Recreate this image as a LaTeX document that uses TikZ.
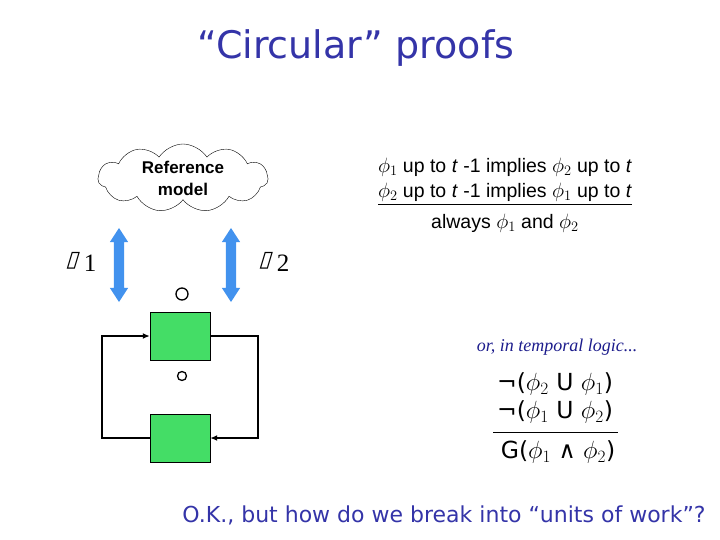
\documentclass[tikz,border=0pt]{standalone}
\usepackage{amsmath,amssymb}
\usepackage{xcolor}
\usepackage{fontspec}
\setmainfont{Liberation Sans}
\newfontfamily\comicfont{DejaVu Sans}
\newfontfamily\timesfont{Liberation Serif}
\newfontfamily\boxfont[FakeSlant=0.3]{DejaVu Sans}
\usepackage{tikz}
\usetikzlibrary{arrows.meta,positioning,shapes.symbols,shapes.arrows}
\definecolor{slideblue}{RGB}{52,52,168}
\definecolor{logicblue}{RGB}{28,28,140}
\definecolor{arrowblue}{RGB}{66,146,238}
\definecolor{unitgreen}{RGB}{68,221,102}
\newcommand{\glyphbox}[1]{{\boxfont\fontsize{22}{22}\selectfont ▯}\hspace{6pt}\raisebox{-5pt}{\timesfont\fontsize{25}{25}\selectfont #1}}

\begin{document}
\begin{tikzpicture}[x=1pt,y=-1pt,
  title/.style={font=\comicfont\fontsize{38}{42}\selectfont,text=slideblue},
  remark/.style={font=\comicfont\fontsize{22}{26}\selectfont,text=slideblue},
  body/.style={font=\fontsize{19.5}{22}\selectfont,inner sep=1pt},
  logic/.style={font=\comicfont\fontsize{23.5}{26}\selectfont,inner sep=1pt},
  aside/.style={font=\timesfont\itshape\fontsize{18}{22}\selectfont,text=logicblue},
  refcloud/.style={cloud,draw,fill=white,cloud puffs=11,cloud puff arc=115,aspect=2.6,minimum width=170pt,minimum height=68pt,align=center,font=\bfseries\fontsize{17}{22}\selectfont,inner sep=0pt},
  bidir/.style={double arrow,fill=arrowblue,rotate=90,minimum height=74pt,minimum width=18pt,inner sep=5pt,double arrow head extend=4pt,double arrow tip angle=66},
  unit/.style={draw,fill=unitgreen,minimum width=60pt,minimum height=48pt,inner sep=0pt},
  port/.style={circle,draw,line width=1.3pt,inner sep=0pt},
  link/.style={-{Latex[length=7pt,width=6pt]},line width=2pt},
  bar/.style={line width=0.8pt}]
\useasboundingbox (0,0) rectangle (720,540);
\node[title] (head) at (356,48) {“Circular” proofs};
% reference model and the two components
\node[refcloud] (refm) at (183,178) {Reference\\model};
\node[bidir] (a1) at (119,265) {};
\node[bidir] (a2) at (231,265) {};
\node (lab1) at (81,262) {\glyphbox{1}};
\node (lab2) at (274,262) {\glyphbox{2}};
\node[port,minimum size=12pt] (p1) at (182,294) {};
\node[unit] (u1) at (180,336) {};
\node[port,minimum size=9pt] (p2) at (182,376) {};
\node[unit] (u2) at (180,438) {};
\coordinate (cl) at (102,0);
\coordinate (cr) at (258,0);
\draw[link] (u2.west) -- (u2.west -| cl) -- (u1.west -| cl) -- (u1.west);
\draw[link] (u1.east) -- (u1.east -| cr) -- (u2.east -| cr) -- (u2.east);
% the proof rule
\node[body] (r1) at (505,167) {$\phi_1$ up to \textit{t} -1 implies $\phi_2$ up to \textit{t}};
\node[body] (r2) at (505,194) {\underline{$\phi_2$ up to \textit{t} -1 implies $\phi_1$ up to \textit{t}}};
\node[body] (r3) at (505,223) {always $\phi_1$ and $\phi_2$};
\node[aside] (tl) at (557,347) {or, in temporal logic...};
\node[logic] (f1) at (555,384) {¬($\phi_2$ U $\phi_1$)};
\node[logic] (f2) at (555,412) {¬($\phi_1$ U $\phi_2$)};
\node[logic] (f3) at (558,452) {G($\phi_1$ ∧ $\phi_2$)};
\coordinate (rl) at (493,432);
\coordinate (rr) at (618,432);
\draw[bar] (rl) -- (rr);
\node[remark] (q) at (444,515) {O.K., but how do we break into “units of work”?};
\end{tikzpicture}
\end{document}
